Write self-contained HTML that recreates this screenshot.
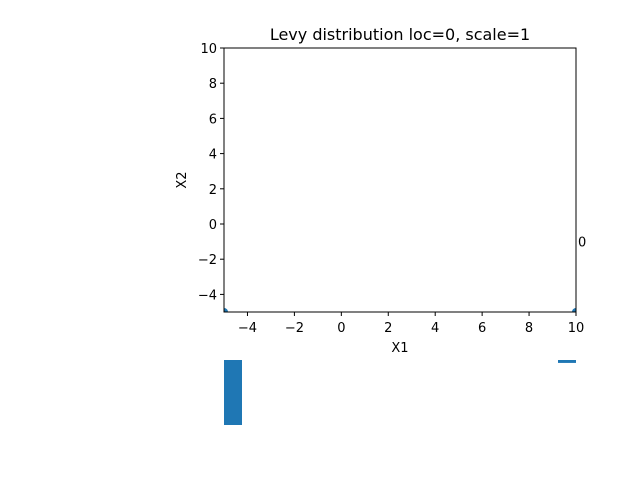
<!DOCTYPE html>
<html><head><meta charset="utf-8"><style>
body{margin:0;background:#fff;}
svg{display:block;font-family:"DejaVu Sans","Liberation Sans",sans-serif;}
</style></head><body>
<svg id="c" width="640" height="480" viewBox="0 0 640 480">
<defs><clipPath id="clip"><rect x="224" y="48" width="352" height="264"/></clipPath></defs>
<text x="400" y="40" font-size="16" text-anchor="middle">Levy distribution loc=0, scale=1</text>
<g id="marks" clip-path="url(#clip)"></g>
<rect x="224" y="48" width="352" height="264" fill="none" stroke="#000" stroke-width="1"/>
<g id="ticks" font-size="13"></g>
<text x="400" y="352" font-size="13" text-anchor="middle">X1</text>
<text x="0" y="0" font-size="13" text-anchor="middle" transform="translate(186,180) rotate(-90)">X2</text>
<g id="hist"></g>
</svg>
<script>
const xTicks=[-4,-2,0,2,4,6,8,10];
const yTicks=[-4,-2,0,2,4,6,8,10];
const pointsX=[-5,10];
const pointsY=[-5,-5];
const labelX=[10];
const labelY=[-1];
const labelText=["0"];
const histValues=[1.0,0.045];
const histBins=[0,1];

const NS="http://www.w3.org/2000/svg";
const X0=224,X1=576,Y0=312,Y1=48;
function sx(v){return X0+(v+5)/15*(X1-X0);}
function sy(v){return Y0-(v+5)/15*(Y0-Y1);}
function mk(t,a,p){const e=document.createElementNS(NS,t);for(const k in a)e.setAttribute(k,a[k]);p.appendChild(e);return e;}
const fmt=v=>v<0?"\u2212"+(-v):""+v;
const tg=document.getElementById('ticks');
xTicks.forEach(v=>{
  const l=mk('line',{x1:sx(v),x2:sx(v),y1:312,y2:316,stroke:'#000'},tg);
  
  
  const t=mk('text',{x:sx(v),y:332,'text-anchor':'middle'},tg);t.textContent=fmt(v);
  
  
});
yTicks.forEach(v=>{
  const l=mk('line',{x1:220,x2:224,y1:sy(v),y2:sy(v),stroke:'#000'},tg);
  
  
  const t=mk('text',{x:217,y:sy(v)+5,'text-anchor':'end'},tg);t.textContent=fmt(v);
  
  
});
const mg=document.getElementById('marks');
pointsX.forEach((x,i)=>{
  const c=mk('circle',{cx:sx(x),cy:sy(pointsY[i]),r:4,fill:'#1f77b4'},mg);
  
  
});
const svg=document.getElementById('c');
labelX.forEach((x,i)=>{
  const t=mk('text',{x:sx(x)+2,y:sy(labelY[i])+5,'font-size':13},svg);t.textContent=labelText[i];
  
  
});
const hg=document.getElementById('hist');
const hmax=Math.max(...histValues);
histBins.forEach((b,i)=>{
  const x=b===0?224:558;
  const h=histValues[i]/hmax*65;
  const r=mk('rect',{x:x,y:360,width:18,height:Math.max(h,1),fill:'#1f77b4'},hg);
  
  
});
</script>
</body></html>
